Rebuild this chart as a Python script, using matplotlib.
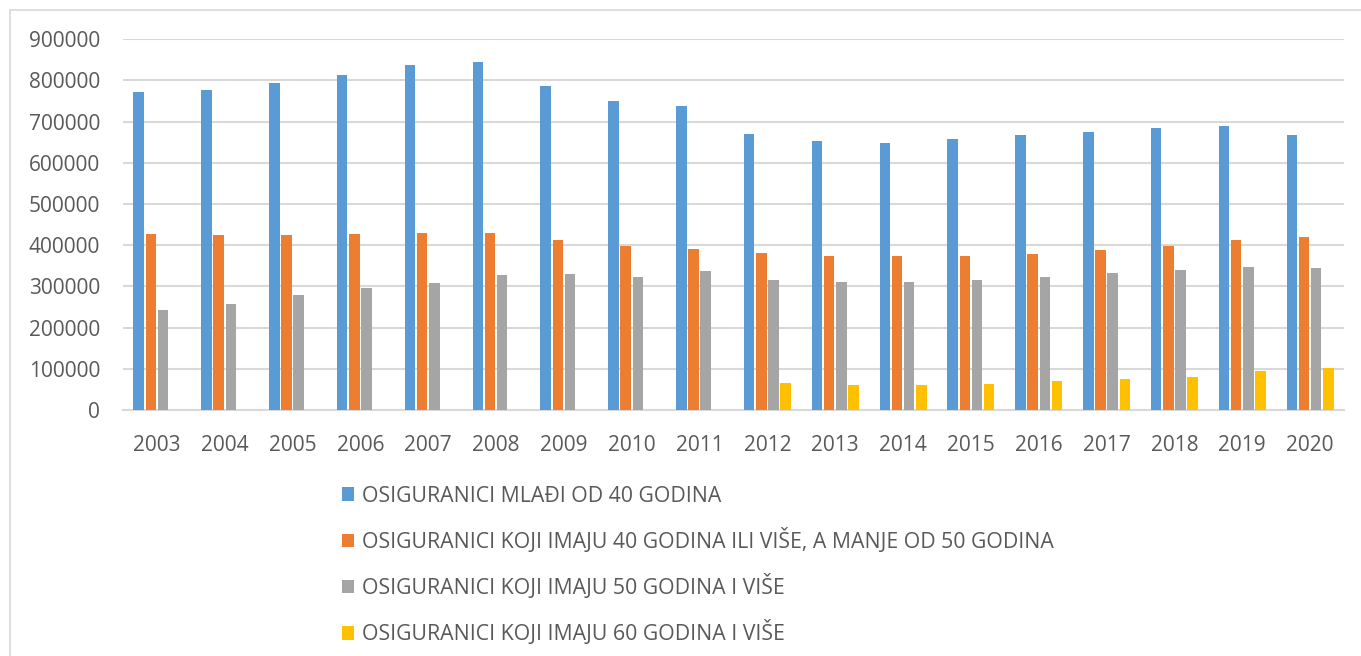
import matplotlib
matplotlib.use("Agg")
import matplotlib.pyplot as plt
from matplotlib.patches import Patch
from matplotlib.lines import Line2D
import numpy as np

years = [str(y) for y in range(2003, 2021)]

mladji_40 = [772000, 776000, 794000, 813000, 838000, 845000, 786000, 750000, 739000,
             669000, 653000, 648000, 658000, 667000, 676000, 684000, 689000, 667000]
od_40_do_50 = [427000, 424000, 426000, 428000, 430000, 430000, 413000, 399000, 390000,
               380000, 374000, 373000, 373000, 378000, 388000, 399000, 412000, 419000]
od_50 = [243000, 258000, 278000, 295000, 308000, 327000, 329000, 324000, 337000,
         316000, 310000, 311000, 316000, 322000, 332000, 340000, 347000, 345000]
od_60 = [0, 0, 0, 0, 0, 0, 0, 0, 0,
         65000, 61000, 61000, 64000, 70000, 76000, 81000, 95000, 103000]

labels = ["OSIGURANICI MLAĐI OD 40 GODINA",
          "OSIGURANICI KOJI IMAJU 40 GODINA ILI VIŠE, A MANJE OD 50 GODINA",
          "OSIGURANICI KOJI IMAJU 50 GODINA I VIŠE",
          "OSIGURANICI KOJI IMAJU 60 GODINA I VIŠE"]
colors = ["#5B9BD5", "#ED7D31", "#A5A5A5", "#FFC000"]

plt.rcParams['font.family'] = ['Open Sans', 'DejaVu Sans']
text_color = "#595959"
grid_color = "#D9D9D9"

fig = plt.figure(figsize=(13.61, 6.56), dpi=100)
ax = fig.add_axes([123 / 1361, 1 - 410 / 656, (1344 - 123) / 1361, (410 - 39.3) / 656])

x = np.arange(len(years))
step = 0.18
for i, (vals, col) in enumerate(zip([mladji_40, od_40_do_50, od_50, od_60], colors)):
    ax.bar(x + (i - 1.5) * step, vals, width=step * 0.86, color=col, zorder=3)

ax.set_xlim(-0.5, len(years) - 0.5)
ax.set_ylim(0, 900000)
ax.set_yticks(np.arange(0, 900001, 100000))
ax.set_yticklabels([str(v) for v in range(0, 900001, 100000)])
ax.set_xticks(x)
ax.set_xticklabels(years)
ax.tick_params(axis='both', length=0, labelsize=15, colors=text_color)
ax.tick_params(axis='x', pad=18)
ax.tick_params(axis='y', pad=16.5)
ax.grid(axis='y', color=grid_color, linewidth=1.5, zorder=0)
for s in ['top', 'right', 'left']:
    ax.spines[s].set_visible(False)
ax.spines['bottom'].set_color(grid_color)
ax.spines['bottom'].set_linewidth(1.5)

handles = [Patch(facecolor=c) for c in colors]
fig.legend(handles, labels, loc='upper left', bbox_to_anchor=(333 / 1361, 1 - 477 / 656),
           frameon=False, fontsize=15.3, labelcolor=text_color, handlelength=0.6,
           handleheight=0.6, handletextpad=0.35, labelspacing=1.0, borderaxespad=0)

# light chart border (left and top edges)
fig.add_artist(Line2D([10 / 1361, 10 / 1361], [0, 1 - 10 / 656], color=grid_color,
                      linewidth=1.2, transform=fig.transFigure))
fig.add_artist(Line2D([10 / 1361, 1], [1 - 10 / 656, 1 - 10 / 656], color=grid_color,
                      linewidth=1.2, transform=fig.transFigure))

fig.savefig("out.png", dpi=100, facecolor="white")
